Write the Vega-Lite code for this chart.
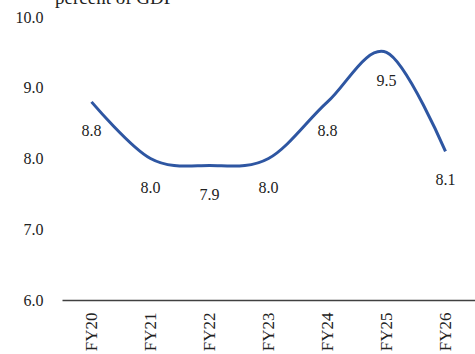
{
  "$schema": "https://vega.github.io/schema/vega-lite/v6.json",
  "autosize": "none",
  "width": 413,
  "height": 283,
  "padding": {"left": 62, "top": 17, "right": 0, "bottom": 54},
  "background": "white",
  "title": {
    "text": "percent of GDP",
    "anchor": "start",
    "frame": "group",
    "dx": -7,
    "offset": 1,
    "font": "Liberation Serif",
    "fontSize": 19,
    "fontWeight": "normal",
    "color": "#222222"
  },
  "config": {
    "view": {"stroke": null},
    "font": "Liberation Serif"
  },
  "data": {
    "values": [
      {"year": "FY20", "value": 8.8},
      {"year": "FY21", "value": 8.0},
      {"year": "FY22", "value": 7.9},
      {"year": "FY23", "value": 8.0},
      {"year": "FY24", "value": 8.8},
      {"year": "FY25", "value": 9.5},
      {"year": "FY26", "value": 8.1}
    ]
  },
  "encoding": {
    "x": {
      "field": "year",
      "type": "ordinal",
      "scale": {"type": "point", "padding": 0.5},
      "axis": {
        "title": null,
        "labelAngle": -90,
        "labelFont": "Liberation Serif",
        "labelFontSize": 17,
        "labelColor": "#222222",
        "labelPadding": 12,
        "ticks": false,
        "domainColor": "#404040",
        "domainWidth": 1.5,
        "grid": false
      }
    },
    "y": {
      "field": "value",
      "type": "quantitative",
      "scale": {"domain": [6, 10], "nice": false, "zero": false},
      "axis": {
        "title": null,
        "values": [6, 7, 8, 9, 10],
        "format": ".1f",
        "labelFont": "Liberation Serif",
        "labelFontSize": 16,
        "labelColor": "#222222",
        "labelPadding": 19,
        "domain": false,
        "ticks": false,
        "grid": false
      }
    }
  },
  "layer": [
    {
      "mark": {
        "type": "line",
        "interpolate": "cardinal",
        "color": "#2E56A2",
        "strokeWidth": 3
      }
    },
    {
      "mark": {
        "type": "text",
        "dy": 29,
        "baseline": "middle",
        "font": "Liberation Serif",
        "fontSize": 16,
        "color": "#222222"
      },
      "encoding": {
        "text": {"field": "value", "type": "quantitative", "format": ".1f"}
      }
    }
  ]
}
